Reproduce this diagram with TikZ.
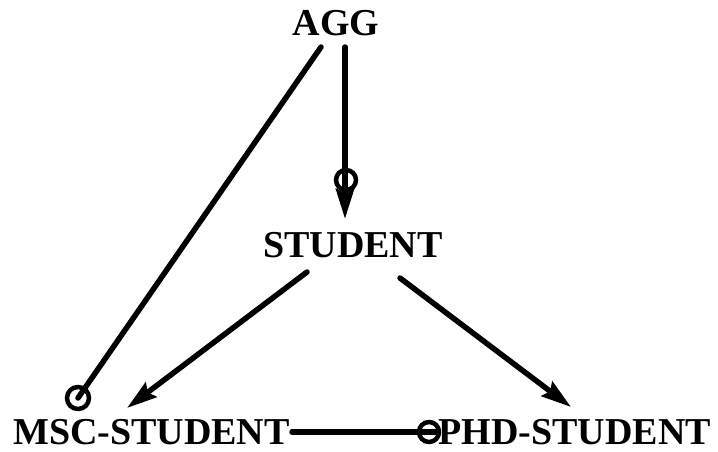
\documentclass[tikz,border=0pt]{standalone}
\usepackage{fontspec}
\setmainfont{Liberation Serif}
\usetikzlibrary{arrows.meta}
\begin{document}
\begin{tikzpicture}[x=1pt,y=-1pt,
  lbl/.style={inner sep=0pt,font=\fontsize{38}{38}\selectfont\bfseries},
  conn/.style={line width=5.5pt,line cap=round},
  arr/.style={conn,-{Stealth[length=30pt,width=18pt,inset=4pt]}},
  lolly/.style={circle,draw,line width=4.5pt,inner sep=0pt,minimum size=20pt}]
\useasboundingbox (0,0) rectangle (718,452);
% labels
\node[lbl,anchor=base] (agg) at (336,36) {AGG};
\node[lbl,anchor=base] (student) at (353,257) {STUDENT};
\node[lbl,anchor=base west] (msc) at (13,444) {MSC-STUDENT};
\node[lbl,anchor=base east] (phd) at (711,444) {PHD-STUDENT};
% lollipop ends
\node[lolly] (c1) at (346,180) {};
\node[lolly,minimum size=22pt] (c2) at (78,398) {};
\node[lolly,minimum size=20pt] (c3) at (429,432) {};
% connector end points
\coordinate (a1) at (345,47);
\coordinate (a2) at (345,219);
\coordinate (a3) at (321,47);
\coordinate (s1) at (307,272);
\coordinate (s2) at (127,408);
\coordinate (s3) at (400,278);
\coordinate (s4) at (571,407);
\coordinate (m1) at (292,432);
% connectors
\draw[arr] (a1) -- (a2);
\draw[conn] (a3) -- (c2.center);
\draw[arr] (s1) -- (s2);
\draw[arr] (s3) -- (s4);
\draw[conn] (m1) -- (c3.center);
\draw[conn,line cap=butt] (c3.center) -- (c3.east);
\end{tikzpicture}
\end{document}
